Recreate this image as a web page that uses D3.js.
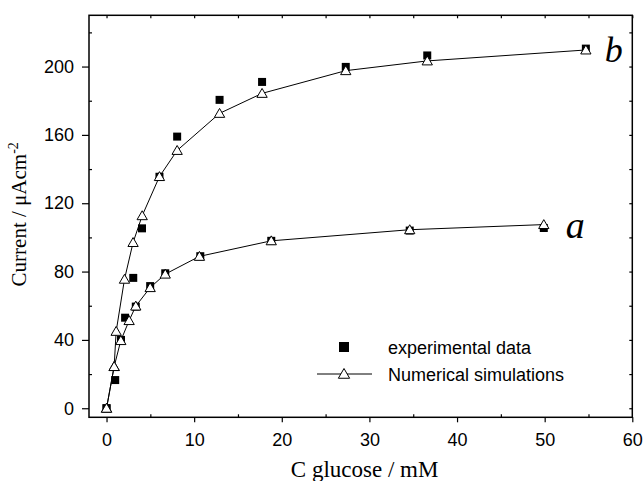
<!DOCTYPE html>
<html>

<head>
    <meta charset="utf-8">
    <script src="https://cdn.jsdelivr.net/npm/d3@7/dist/d3.min.js"></script>
    <style>
        body { margin: 0; background: #fff; }
    </style>
</head>

<body>
    <div id="chart"></div>

    <script>

        // experimental points (filled squares)
        const expA_x = [0, 1.65, 3.34, 4.98, 6.7, 10.7, 18.8, 34.6, 49.9];
        const expA_y = [0, 40, 59.5, 71.5, 79, 89, 98, 104, 105.5];
        const expB_x = [0, 0.99, 2.12, 3.05, 4.05, 6.04, 8.06, 12.9, 17.75, 27.3, 36.6, 54.7];
        const expB_y = [0, 16.5, 53, 76.3, 105.3, 135.5, 159, 180.5, 191, 199.8, 206.5, 210.5];

        // numerical simulations (open triangles + line)
        const simA_x = [0, 0.87, 1.63, 2.58, 3.34, 4.98, 6.7, 10.6, 18.8, 34.6, 49.9];
        const simA_y = [0, 24.4, 39.6, 51.3, 59.8, 70.6, 78.5, 88.9, 98, 104.5, 107.5];
        const simB_x = [0, 0.87, 1.1, 2.05, 3.03, 4.07, 6.04, 8.06, 12.9, 17.75, 27.3, 36.6, 54.7];
        const simB_y = [0, 24.4, 45, 75.5, 97, 112.7, 135.6, 150.9, 172.6, 184.3, 197.6, 203.3, 209.7];

        const xMajor = [0, 10, 20, 30, 40, 50, 60];
        const xMinor = [5, 15, 25, 35, 45, 55];
        const yMajor = [0, 40, 80, 120, 160, 200];
        const yMinor = [20, 60, 100, 140, 180, 220];

        const curveLabels = ["a", "b"];
        const legendLabels = ["experimental data", "Numerical simulations"];

        const zip = (xs, ys) => xs.map((v, i) => ({ x: v, y: ys[i] }));

        var width = 643,
            height = 481;

        var margin = { top: 15.3, right: 10.7, bottom: 63.7, left: 89 };

        const svg = d3.select("#chart")
            .append("svg")
            .attr("width", width)
            .attr("height", height);

        const x = d3.scaleLinear()
            .domain([-2, 60])
            .range([margin.left, width - margin.right]);

        const y = d3.scaleLinear()
            .domain([-5.3, 230])
            .range([height - margin.bottom, margin.top]);

        const sans = "'Liberation Sans', Arial, sans-serif";
        const serif = "'Liberation Serif', 'Times New Roman', serif";

        const styleAxis = g => {
            g.select(".domain").remove();
            g.selectAll("line").attr("stroke", "#000").attr("stroke-width", 1.2);
            g.selectAll("text")
                .attr("fill", "#000")
                .style("font-family", sans)
                .style("font-size", "18px");
        };

        const yBottom = height - margin.bottom;

        // bottom axis
        svg.append("g")
            .attr("transform", `translate(0,${yBottom})`)
            .call(d3.axisBottom(x).tickValues(xMajor).tickSize(5).tickPadding(11).tickFormat(d3.format("d")))
            .call(styleAxis);
        svg.append("g")
            .attr("transform", `translate(0,${yBottom})`)
            .call(d3.axisBottom(x).tickValues(xMinor).tickSize(-3).tickFormat(""))
            .call(styleAxis);

        // top axis (inward ticks, no labels)
        svg.append("g")
            .attr("transform", `translate(0,${margin.top})`)
            .call(d3.axisTop(x).tickValues(xMajor.concat(xMinor)).tickSize(-3).tickFormat(""))
            .call(styleAxis);

        // left axis
        svg.append("g")
            .attr("transform", `translate(${margin.left},0)`)
            .call(d3.axisLeft(y).tickValues(yMajor).tickSize(7).tickPadding(8).tickFormat(d3.format("d")))
            .call(styleAxis);
        svg.append("g")
            .attr("transform", `translate(${margin.left},0)`)
            .call(d3.axisLeft(y).tickValues(yMinor).tickSize(-3).tickFormat(""))
            .call(styleAxis);

        // right axis (inward ticks)
        svg.append("g")
            .attr("transform", `translate(${width - margin.right},0)`)
            .call(d3.axisRight(y).tickValues(yMajor.concat(yMinor)).tickSize(-3).tickFormat(""))
            .call(styleAxis);

        // frame
        svg.append("rect")
            .attr("x", margin.left)
            .attr("y", margin.top)
            .attr("width", width - margin.right - margin.left)
            .attr("height", yBottom - margin.top)
            .attr("fill", "none")
            .attr("stroke", "#000")
            .attr("stroke-width", 1.5);

        const square = d3.symbol().type(d3.symbolSquare).size(64);
        const triangle = d3.symbol().type(d3.symbolTriangle).size(46);

        const plot = svg.append("g");

        // experimental squares first (under the simulation markers)
        [zip(expA_x, expA_y), zip(expB_x, expB_y)].forEach(pts => {
            plot.append("g")
                .selectAll("path")
                .data(pts)
                .join("path")
                .attr("d", square)
                .attr("transform", d => `translate(${x(d.x)},${y(d.y)})`)
                .attr("fill", "#000");
        });

        const line = d3.line().x(d => x(d.x)).y(d => y(d.y));

        [zip(simA_x, simA_y), zip(simB_x, simB_y)].forEach(pts => {
            plot.append("path")
                .datum(pts)
                .attr("d", line)
                .attr("fill", "none")
                .attr("stroke", "#000")
                .attr("stroke-width", 1);

            plot.append("g")
                .selectAll("path")
                .data(pts)
                .join("path")
                .attr("d", triangle)
                .attr("transform", d => `translate(${x(d.x)},${y(d.y) + 1})`)
                .attr("fill", "#fff")
                .attr("stroke", "#000")
                .attr("stroke-width", 1);
        });

        // curve letters
        const lastA = simA_x.length - 1,
            lastB = simB_x.length - 1;
        svg.append("text")
            .attr("x", x(simA_x[lastA]) + 22)
            .attr("y", y(simA_y[lastA]) + 13)
            .text(curveLabels[0])
            .style("font-family", serif)
            .style("font-style", "italic")
            .style("font-size", "38px");
        svg.append("text")
            .attr("x", x(simB_x[lastB]) + 19)
            .attr("y", y(simB_y[lastB]) + 12)
            .text(curveLabels[1])
            .style("font-family", serif)
            .style("font-style", "italic")
            .style("font-size", "36px");

        // legend
        const legend = svg.append("g").attr("transform", "translate(344,347)");
        legend.append("path")
            .attr("d", d3.symbol().type(d3.symbolSquare).size(100))
            .attr("fill", "#000");
        legend.append("line")
            .attr("x1", -27).attr("x2", 28)
            .attr("y1", 27).attr("y2", 27)
            .attr("stroke", "#000").attr("stroke-width", 1);
        legend.append("path")
            .attr("d", d3.symbol().type(d3.symbolTriangle).size(55))
            .attr("transform", "translate(0,28)")
            .attr("fill", "#fff").attr("stroke", "#000").attr("stroke-width", 1);
        legend.selectAll("text.leg")
            .data(legendLabels)
            .join("text")
            .attr("class", "leg")
            .attr("x", 44)
            .attr("y", (d, i) => 7 + i * 26.7)
            .text(d => d)
            .style("font-family", sans)
            .style("font-size", "18px");

        // axis titles
        svg.append("text")
            .attr("x", (margin.left + width - margin.right) / 2 + 4)
            .attr("y", 477)
            .attr("text-anchor", "middle")
            .style("font-family", serif)
            .style("font-size", "23px")
            .text("C glucose / mM");

        const yTitle = svg.append("text")
            .attr("transform", `translate(26,${(margin.top + yBottom) / 2 - 2}) rotate(-90)`)
            .attr("text-anchor", "middle")
            .style("font-family", serif)
            .style("font-size", "21px");
        yTitle.append("tspan").text("Current / μAcm");
        yTitle.append("tspan").attr("dy", -8).style("font-size", "14px").text("-2");

    </script>
</body>

</html>
